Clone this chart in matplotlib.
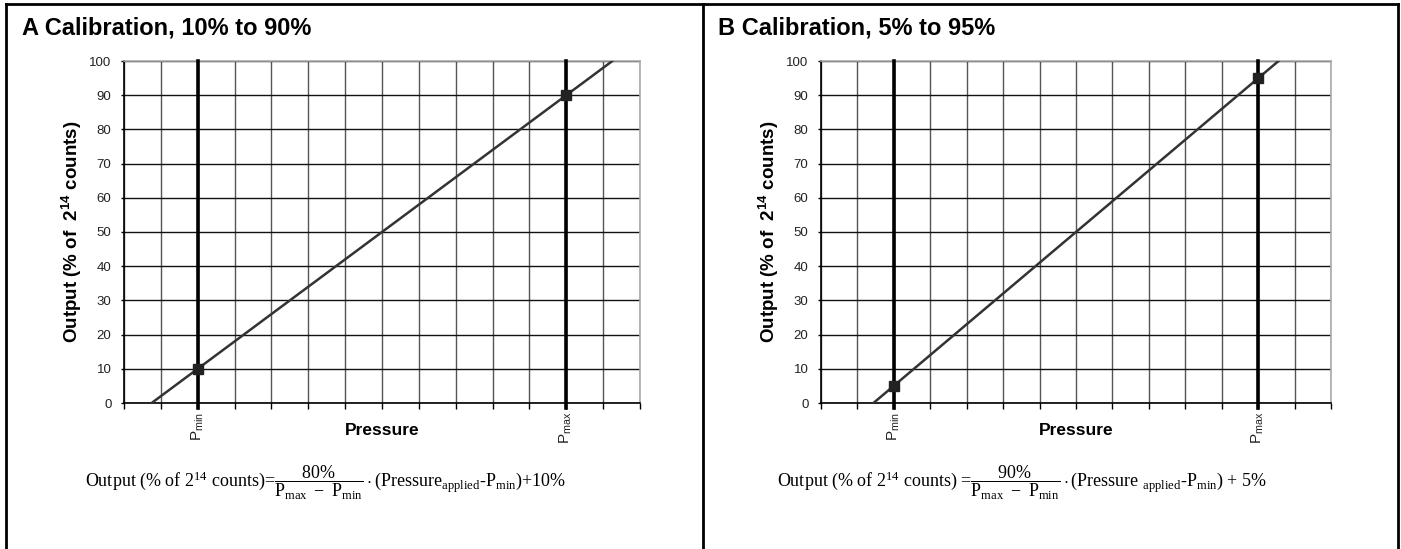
import matplotlib.pyplot as plt
from matplotlib.lines import Line2D

plt.rcParams['font.family'] = ['Liberation Sans', 'DejaVu Sans']
plt.rcParams['mathtext.fontset'] = 'custom'
plt.rcParams['mathtext.rm'] = 'Liberation Serif'
plt.rcParams['mathtext.it'] = 'Liberation Serif'
plt.rcParams['mathtext.sf'] = 'Liberation Sans'
plt.rcParams['mathtext.bf'] = 'Liberation Sans:bold'

# values
x_ticks = list(range(0, 15))
y_ticks = list(range(0, 101, 10))
p_min = 2
p_max = 12

titles = ["A Calibration, 10% to 90%", "B Calibration, 5% to 95%"]
cal_x = [[p_min, p_max], [p_min, p_max]]
cal_y = [[10, 90], [5, 95]]
line_x = [[0.75, 13.25], [1.44, 12.56]]
line_y = [[0, 100], [0, 100]]
equations = [
    r"Output (% of 2$^{14}$ counts)=$\dfrac{80\%}{P_{max}\ -\ P_{min}}\cdot$(Pressure$_{applied}$-P$_{min}$)+10%",
    r"Output (% of 2$^{14}$ counts) =$\dfrac{90\%}{P_{max}\ -\ P_{min}}\cdot$(Pressure $_{applied}$-P$_{min}$) + 5%",
]

W, H = 1401, 549
fig = plt.figure(figsize=(W / 100, H / 100), dpi=100)

# outer frame of the figure
for xs, ys in [([6, 1398], [4, 4]), ([6, 6], [4, 549]), ([703, 703], [4, 549]),
               ([1398, 1398], [4, 549])]:
    fig.add_artist(Line2D([x / W for x in xs], [1 - y / H for y in ys],
                          color='black', lw=2.0))

ax_boxes = [(124, 61, 640, 403), (821, 61, 1331, 403)]
title_x = [22, 718]
eq_x = [325, 1022]

for i in range(2):
    l, t, r, b = ax_boxes[i]
    ax = fig.add_axes([l / W, 1 - b / H, (r - l) / W, (b - t) / H])
    ax.set_xlim(0, 14)
    ax.set_ylim(0, 100)
    ax.set_xticks(x_ticks)
    ax.set_yticks(y_ticks)
    ax.set_xticklabels([])
    ax.set_yticklabels([str(v) for v in y_ticks], fontsize=9.5, color='#222222')
    ax.tick_params(axis='x', length=4, width=1, color='black', direction='out')
    ax.tick_params(axis='y', length=2, width=1, color='black', direction='out', pad=7)
    ax.grid(True, axis='x', color='#555555', lw=1.0)
    ax.grid(True, axis='y', color='#111111', lw=1.0)
    ax.set_axisbelow(True)
    for s in ['top', 'right']:
        ax.spines[s].set_color('#aaaaaa')
        ax.spines[s].set_linewidth(1.2)
    for s in ['left', 'bottom']:
        ax.spines[s].set_color('black')
        ax.spines[s].set_linewidth(1.2)

    # thick Pmin / Pmax lines
    for p in [p_min, p_max]:
        ax.plot([p, p], [-1.5, 100], color='black', lw=2.6, clip_on=False, zorder=3)

    ax.plot(line_x[i], line_y[i], color='#333333', lw=1.8, zorder=4)
    ax.plot(cal_x[i], cal_y[i], ls='none', marker='s', ms=6.5, color='#222222', zorder=5)

    for p, name in [(p_min, 'min'), (p_max, 'max')]:
        ax.text(p, -2.6, r"$\mathsf{P_{%s}}$" % name, rotation=90, ha='center', va='top',
                fontsize=11, color='#222222')

    ax.text(0.5, -0.079, "Pressure", transform=ax.transAxes, ha='center', va='center',
            fontsize=12.5, fontweight='bold')
    ax.set_ylabel(r"Output (% of  $\mathbf{2^{14}}$ counts)", fontsize=13.5, fontweight='bold')
    ax.yaxis.set_label_coords(-0.078, 0.5)

    fig.text(title_x[i] / W, 1 - 34 / H, titles[i], fontsize=17, fontweight='bold',
             va='baseline')
    fig.text(eq_x[i] / W, 1 - 483 / H, equations[i], family=['Liberation Serif'],
             fontsize=13, ha='center', va='center')

fig.savefig('out.png', dpi=100)
